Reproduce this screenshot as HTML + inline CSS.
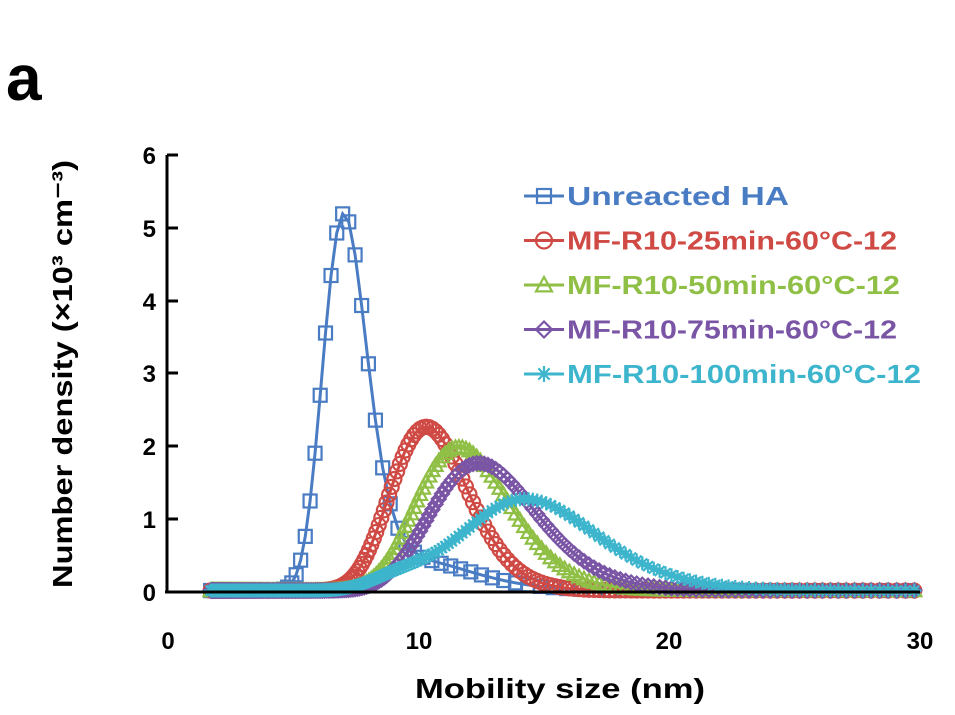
<!DOCTYPE html>
<html><head><meta charset="utf-8"><style>
html,body{margin:0;padding:0;background:#fff;}
svg{display:block;font-family:"Liberation Sans",sans-serif;}
</style></head><body>
<svg id="s" width="955" height="715" viewBox="0 0 955 715" xmlns="http://www.w3.org/2000/svg">
<text x="6" y="100" font-size="64" font-weight="bold" fill="#000">a</text>
<g id="data"></g>
<g stroke="#000" stroke-width="3" fill="none">
<line x1="167" y1="155" x2="167" y2="593"/>
<line x1="165" y1="592" x2="920" y2="592"/>
<line x1="167" y1="155" x2="178" y2="155"/>
<line x1="167" y1="228" x2="178" y2="228"/>
<line x1="167" y1="301" x2="178" y2="301"/>
<line x1="167" y1="373" x2="178" y2="373"/>
<line x1="167" y1="446" x2="178" y2="446"/>
<line x1="167" y1="519" x2="178" y2="519"/>
</g>
<g font-size="24" font-weight="bold" fill="#000" text-anchor="end">
<text x="156" y="164">6</text><text x="156" y="237">5</text><text x="156" y="310">4</text>
<text x="156" y="382">3</text><text x="156" y="455">2</text><text x="156" y="528">1</text><text x="156" y="601">0</text>
</g>
<g font-size="24" font-weight="bold" fill="#000" text-anchor="middle">
<text x="168" y="649">0</text><text x="419" y="649">10</text><text x="669" y="649">20</text><text x="920" y="649">30</text>
</g>
<text x="560" y="698" font-size="28" font-weight="bold" text-anchor="middle" textLength="290" lengthAdjust="spacingAndGlyphs">Mobility size (nm)</text>
<text transform="translate(72,374) rotate(-90)" font-size="28" font-weight="bold" text-anchor="middle" textLength="428" lengthAdjust="spacingAndGlyphs">Number density (×10³ cm⁻³)</text>
<g id="leg" font-size="26" font-weight="bold"></g>
</svg>
<script>
var NS="http://www.w3.org/2000/svg";
function X(v){return 168+v*25.07;}
function Y(v){return 592-v*72.8;}
function g(x,m,s,a){var l=Math.log(x/m);return a*Math.exp(-l*l/(2*s*s));}
var series=[
 {c:"#4a7cc4",m:"sq",r:1.035,f:function(x){return g(x,7,0.125,5.1)+g(x,10,0.2,0.4)+0.02;}},
 {c:"#d04a45",m:"ci",r:1.012,f:function(x){return g(x,10.3,0.15,2.25)+0.02;}},
 {c:"#8fbf45",m:"tr",r:1.012,f:function(x){return g(x,11.6,0.16,1.97)+0.02;}},
 {c:"#7a55a5",m:"di",r:1.012,f:function(x){return g(x,12.4,0.17,1.75)+0.02;}},
 {c:"#3db5cc",m:"st",r:1.012,f:function(x){return g(x,14.3,0.18,1.25)+g(x,9.6,0.15,0.25)+0.02;}}
];
function mk(t,x,y,c,sz){
 var e;
 if(t=="sq"){e=document.createElementNS(NS,"rect");e.setAttribute("x",x-sz);e.setAttribute("y",y-sz);e.setAttribute("width",2*sz);e.setAttribute("height",2*sz);}
 else if(t=="ci"){e=document.createElementNS(NS,"circle");e.setAttribute("cx",x);e.setAttribute("cy",y);e.setAttribute("r",sz);}
 else if(t=="tr"){e=document.createElementNS(NS,"polygon");e.setAttribute("points",(x)+","+(y-sz)+" "+(x-sz)+","+(y+sz*0.8)+" "+(x+sz)+","+(y+sz*0.8));}
 else if(t=="di"){e=document.createElementNS(NS,"polygon");e.setAttribute("points",x+","+(y-sz)+" "+(x+sz)+","+y+" "+x+","+(y+sz)+" "+(x-sz)+","+y);}
 else {e=document.createElementNS(NS,"path");var d="";for(var k=0;k<4;k++){var a=k*Math.PI/4;d+="M"+(x-sz*Math.cos(a))+","+(y-sz*Math.sin(a))+"L"+(x+sz*Math.cos(a))+","+(y+sz*Math.sin(a));}e.setAttribute("d",d);}
 e.setAttribute("fill","none");e.setAttribute("stroke",c);e.setAttribute("stroke-width","2.2");
 return e;
}
var D=document.getElementById("data");
series.forEach(function(s){
 var pts=[],x=1.7;
 while(x<=30.01){pts.push([X(x),Y(s.f(x))]);x*=s.r;}
 var pl=document.createElementNS(NS,"polyline");
 pl.setAttribute("points",pts.map(function(p){return p[0]+","+p[1];}).join(" "));
 pl.setAttribute("fill","none");pl.setAttribute("stroke",s.c);pl.setAttribute("stroke-width","3");
 D.appendChild(pl);
 pts.forEach(function(p){D.appendChild(mk(s.m,p[0],p[1],s.c,s.m=="sq"?6.5:7));});
});
var L=document.getElementById("leg");
var names=["Unreacted HA","MF-R10-25min-60°C-12","MF-R10-50min-60°C-12","MF-R10-75min-60°C-12","MF-R10-100min-60°C-12"];
var lens=[222,330,333,330,354];
names.forEach(function(n,i){
 var y=196+i*44.5,s=series[i];
 var l=document.createElementNS(NS,"line");l.setAttribute("x1",524);l.setAttribute("x2",564);l.setAttribute("y1",y);l.setAttribute("y2",y);l.setAttribute("stroke",s.c);l.setAttribute("stroke-width","3");L.appendChild(l);
 L.appendChild(mk(s.m,544,y,s.c,s.m=="sq"?7:8));
 var t=document.createElementNS(NS,"text");t.setAttribute("x",567);t.setAttribute("y",y+9);t.setAttribute("fill",s.c);
 t.setAttribute("textLength",lens[i]);t.setAttribute("lengthAdjust","spacingAndGlyphs");t.textContent=n;L.appendChild(t);
});
</script>
</body></html>
